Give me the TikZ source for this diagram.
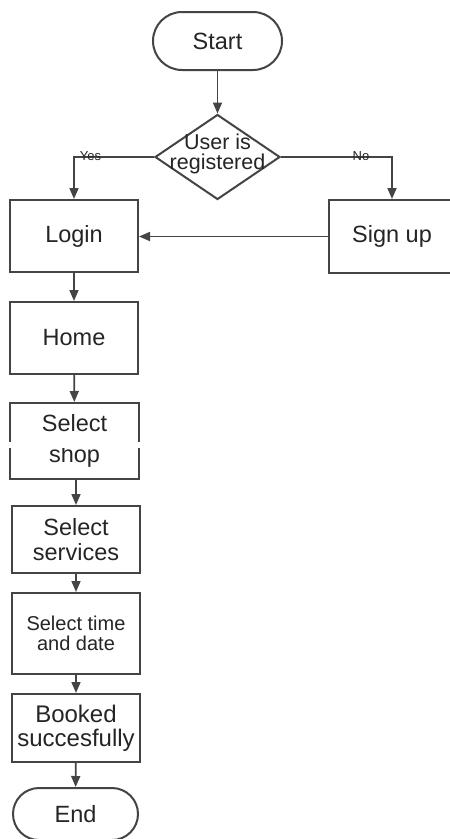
\documentclass[tikz,border=0pt]{standalone}
\usepackage{fontspec}
\setmainfont{Liberation Sans}
\usetikzlibrary{shapes.geometric,arrows.meta}
\definecolor{ln}{HTML}{444444}
\definecolor{tx}{HTML}{252525}
\tikzset{
  base/.style={draw=ln, line width=2pt, inner sep=0pt, text=tx, align=center},
  box/.style={base, rectangle, minimum width=128pt, font=\fontsize{23.5}{25}\selectfont},
  term/.style={base, rectangle, font=\fontsize{23.5}{25}\selectfont},
  arr/.style={draw=ln, line width=1.7pt, -{Triangle[length=11pt,width=9pt]}},
  lbl/.style={text=tx, font=\fontsize{13}{13}\selectfont, inner sep=0pt}
}
\begin{document}
\begin{tikzpicture}[x=1pt,y=-1pt]
\useasboundingbox (0,0) rectangle (450,839);
\clip (0,0) rectangle (450,839);
\fill[white] (0,0) rectangle (450,839);
\node[term, minimum width=129pt, minimum height=58pt, rounded corners=29pt] (start) at (217.5,41) {Start};
\node[base, diamond, minimum width=125pt, minimum height=85pt] (dec) at (217.5,157) {};
\node[text=tx, align=center, inner sep=0pt, font=\fontsize{21.5}{20}\selectfont] (dectext) at (217.5,154) {User is\\registered};
\node[box, minimum height=72pt] (login) at (74,236) {Login};
\node[box, minimum width=126pt, minimum height=73pt] (signup) at (392,236.5) {Sign up};
\node[box, minimum height=72pt] (home) at (74,338) {Home};
\node[box, minimum width=129pt, minimum height=76pt, font=\fontsize{23.5}{31}\selectfont] (shop) at (74.5,441) {Select\\shop};
\node[box, minimum height=67pt] (serv) at (76,539.5) {Select\\services};
\node[box, minimum height=81pt, font=\fontsize{20}{20}\selectfont] (time) at (76,633.5) {Select time\\and date};
\node[box, minimum height=68pt, font=\fontsize{24}{24}\selectfont] (booked) at (76,728) {Booked\\succesfully};
\node[term, minimum width=125pt, minimum height=52pt, rounded corners=26pt] (end) at (75.5,814) {End};
\draw[arr] (start) -- (dec);
\draw[arr] (dec.west) -| (login.north);
\draw[arr] (dec.east) -| (signup.north);
\node[lbl] (yes) at (90.5,156) {Yes};
\node[lbl] (no) at (361,156) {No};
\draw[arr] (signup.west) -- (signup.west -| login.east);
\draw[arr] (login) -- (home);
\draw[arr] (home) -- (shop);
\draw[arr] (shop.south -| serv.north) -- (serv.north);
\draw[arr] (serv) -- (time);
\draw[arr] (time) -- (booked);
\draw[arr] (booked) -- (end);
\fill[white] (0,442) rectangle (160,448);
\end{tikzpicture}
\end{document}
